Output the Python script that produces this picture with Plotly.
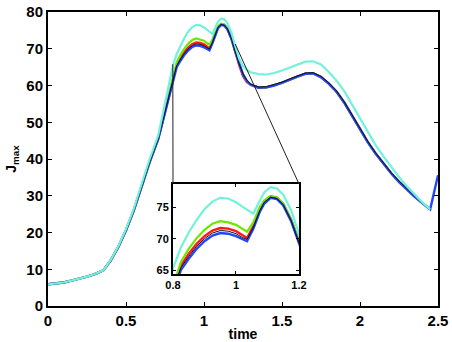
import plotly.graph_objects as go

# time grid shared by all runs
time = [0, 0.05, 0.1, 0.15, 0.2, 0.25, 0.3, 0.355, 0.4, 0.45, 0.5, 0.55, 0.6, 0.65,
        0.707, 0.75, 0.8, 0.825, 0.85, 0.875, 0.9, 0.925, 0.95, 0.975, 1.0, 1.02,
        1.035, 1.055, 1.075, 1.09, 1.11, 1.13, 1.15, 1.175, 1.2, 1.225, 1.25, 1.275,
        1.3, 1.35, 1.4, 1.45, 1.5, 1.55, 1.6, 1.65, 1.7, 1.75, 1.8, 1.85, 1.9, 1.95,
        2.0, 2.05, 2.1, 2.15, 2.2, 2.25, 2.3, 2.35, 2.4, 2.45, 2.5]

early = [5.9, 6.1, 6.4, 6.9, 7.4, 8.0, 8.7, 9.7, 12.3, 16.0, 20.6, 26.0, 32.5, 39.0]

j_blue = early + [45.5, 52.5, 61.4, 65.0, 66.8, 68.4, 69.6, 70.5, 70.9, 70.8, 70.4, 69.9,
                  69.6, 71.6, 74.2, 75.6, 76.5, 76.3, 75.3, 72.8, 69.2, 65.8, 63.0, 61.2,
                  60.2, 59.4, 59.5, 60.0, 60.7, 61.6, 62.5, 63.2, 63.3, 62.3, 60.5, 58.3,
                  55.3, 51.7, 48.0, 44.6, 41.5, 38.7, 36.1, 33.8, 31.7, 29.8, 28.0, 26.3, 35.6]

j_black = early + [45.5, 52.6, 61.6, 65.4, 67.2, 68.8, 70.0, 70.9, 71.3, 71.2, 70.8, 70.2,
                   69.9, 71.8, 74.4, 75.8, 76.6, 76.4, 75.4, 72.9, 69.3, 65.9, 63.2, 61.4,
                   60.4, 59.6, 59.7, 60.2, 60.9, 61.8, 62.7, 63.4, 63.5, 62.5, 60.7, 58.5,
                   55.5, 51.9, 48.2, 44.8, 41.7, 38.9, 36.3, 34.0, 31.9, 30.0, 28.1, 26.4, None]

j_red = early + [45.6, 52.8, 61.9, 65.7, 67.6, 69.2, 70.4, 71.3, 71.7, 71.6, 71.2, 70.5,
                 70.1, 72.0, 74.6, 75.9, 76.7, 76.5, 75.5, 73.0, 69.4, 65.6, 62.6, 60.9,
                 60.2, 59.4, 59.5, 60.0, 60.7, 61.6, 62.5, 63.2, 63.3, 62.3, 60.5, 58.3,
                 55.3, 51.7, 48.0, 44.6, 41.5, 38.7, 36.1, 33.8, 31.7, 29.8, 28.0, 26.3, None]

j_green = early + [45.8, 53.2, 62.4, 66.3, 68.4, 70.1, 71.4, 72.4, 72.8, 72.6, 72.2, 71.5,
                   71.1, 72.6, 75.0, 76.1, 76.8, 76.6, 75.6, 73.1, 69.5, 66.0, 63.1, 61.2,
                   60.2, 59.4, 59.5, 60.0, 60.7, 61.6, 62.5, 63.2, 63.3, 62.3, 60.5, 58.3,
                   55.3, 51.7, 48.0, 44.6, 41.5, 38.7, 36.1, 33.8, 31.7, 29.8, 28.0, 26.3, None]

j_cyan = [5.9, 6.1, 6.4, 6.9, 7.4, 8.0, 8.7, 9.7, 12.4, 16.2, 20.9, 26.5, 33.2, 39.8,
          46.5, 55.0, 65.3, 68.6, 71.0, 73.0, 74.7, 75.9, 76.5, 76.4, 75.8, 75.1,
          74.6, 74.0, 76.0, 77.4, 78.2, 78.0, 77.0, 74.5, 70.8, 67.3, 65.3, 64.2,
          63.6, 63.1, 63.0, 63.4, 64.1, 64.9, 65.8, 66.5, 66.6, 65.7, 63.7, 61.3,
          58.4, 54.8, 50.9, 47.2, 43.8, 40.7, 37.8, 35.1, 32.6, 30.3, 28.2, 26.3, None]

# drawn bottom to top
series = [
    ("red", j_red, "#FF1A1A", 2.4),
    ("green", j_green, "#6CE800", 2.2),
    ("blue", j_blue, "#2246FF", 2.4),
    ("black", j_black, "#111111", 1.0),
    ("cyan", j_cyan, "#72F2DA", 2.2),
]

zoom_x = [0.8, 1.2]
zoom_y = [64.4, 78.7]
inset_dom_x = [0.3205, 0.6436]
inset_dom_y = [0.109, 0.415]
x_range = [0, 2.5]
y_range = [0, 80]

fig = go.Figure()
for name, vals, color, w in series:
    for ax in ("x", "x2"):
        fig.add_trace(go.Scatter(
            x=time, y=vals, mode="lines", name=name, showlegend=False,
            line=dict(color=color, width=w),
            xaxis=ax, yaxis="y" if ax == "x" else "y2",
        ))

font = dict(family="Liberation Sans, Arial, sans-serif", color="black", weight="bold")
axis_common = dict(
    showgrid=False, zeroline=False, showline=True, linecolor="black", linewidth=2,
    mirror="ticks", ticks="inside", tickcolor="black", tickwidth=1, automargin=False,
)

# connector lines from zoomed region to inset top corners
cyan_at = dict(zip(time, j_cyan))
corner_y = y_range[1] * inset_dom_y[1]
shapes = []
for zx, dx in zip(zoom_x, inset_dom_x):
    shapes.append(dict(
        type="line", xref="x", yref="y",
        x0=zx, y0=cyan_at[zx] + 0.5, x1=x_range[1] * dx, y1=corner_y,
        line=dict(color="#222222", width=1),
    ))

fig.update_layout(
    width=452, height=342,
    margin=dict(l=48, r=14, t=12, b=36, autoexpand=False),
    paper_bgcolor="white", plot_bgcolor="white",
    font=font,
    xaxis=dict(axis_common, range=x_range, domain=[0, 1], ticklen=4,
               tickvals=[0, 0.5, 1, 1.5, 2, 2.5], ticktext=["0", "0.5", "1", "1.5", "2", "2.5"],
               tickfont=dict(font, size=15),
               title=dict(text="time", font=dict(font, size=14), standoff=1)),
    yaxis=dict(axis_common, range=y_range, domain=[0, 1], ticklen=4,
               tickvals=list(range(0, 81, 10)), tickfont=dict(font, size=15),
               title=dict(text="J<sub>max</sub>", font=dict(font, size=14), standoff=6)),
    xaxis2=dict(axis_common, range=zoom_x, domain=inset_dom_x, anchor="y2", ticklen=3,
                tickvals=[0.8, 1, 1.2], ticktext=["0.8", "1", "1.2"],
                tickfont=dict(font, size=11)),
    yaxis2=dict(axis_common, range=zoom_y, domain=inset_dom_y, anchor="x2", ticklen=3,
                tickvals=[65, 70, 75], tickfont=dict(font, size=11)),
    shapes=shapes,
)

fig.write_html("out.html", config={"displayModeBar": False},
               post_script="document.body.style.margin='0px';")
